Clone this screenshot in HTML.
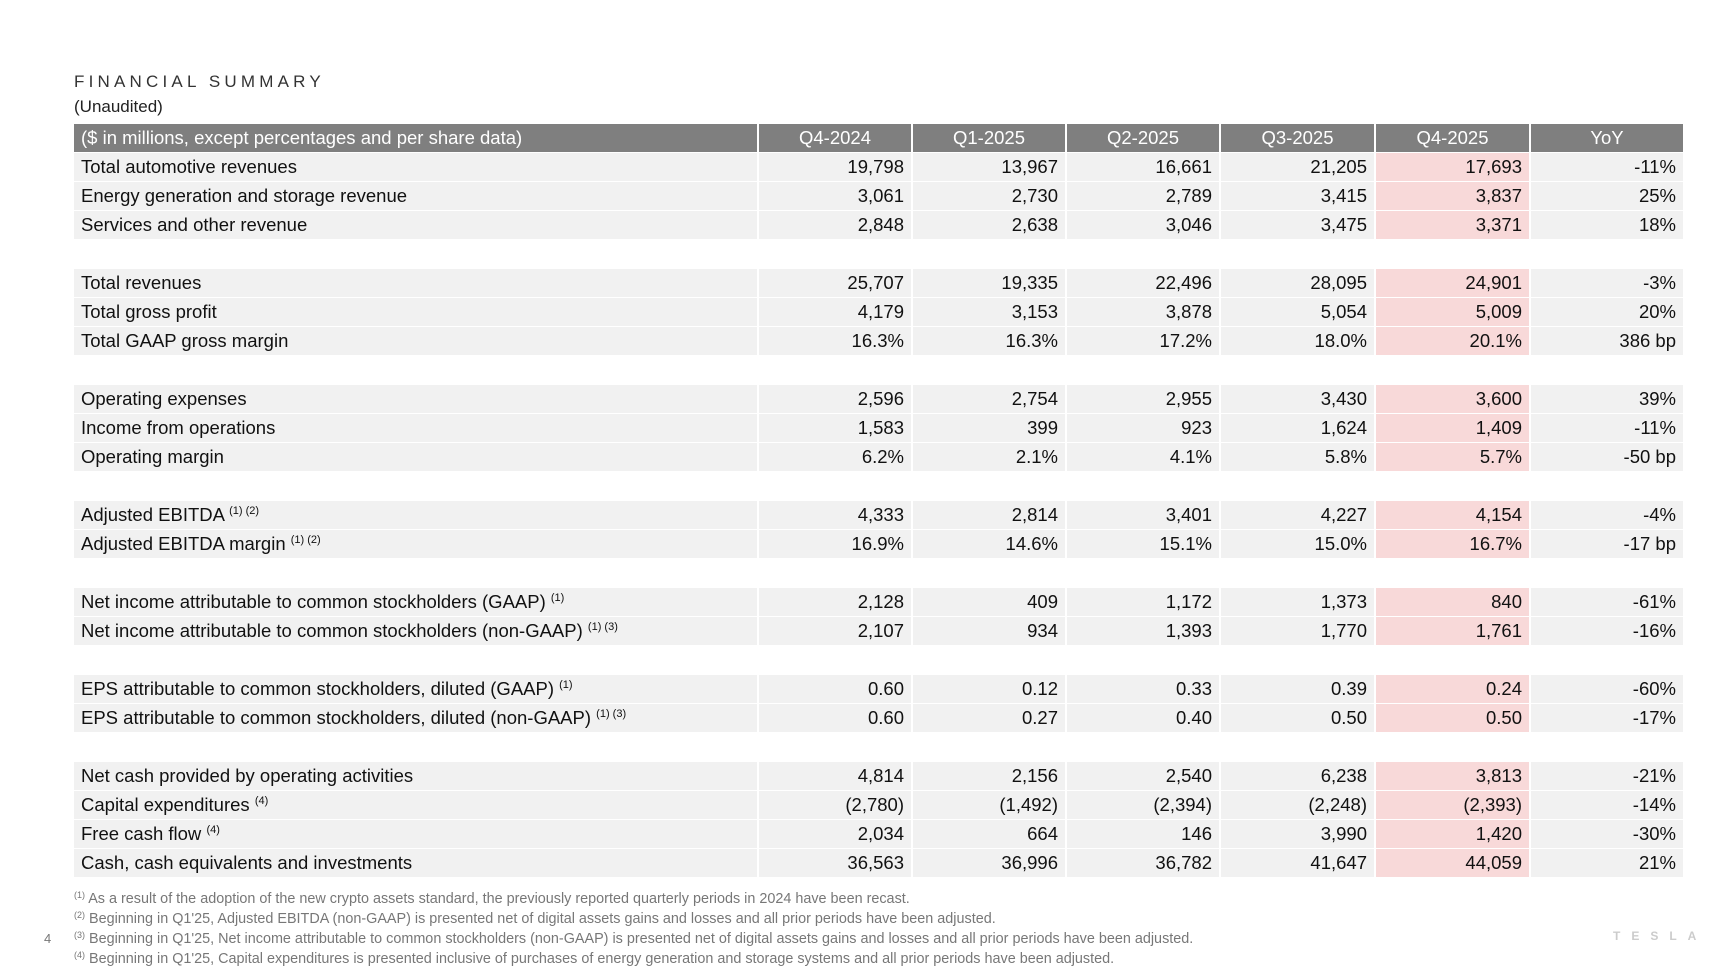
<!DOCTYPE html>
<html><head><meta charset="utf-8">
<style>
body{margin:0;width:1724px;height:969px;background:#fff;position:relative;overflow:hidden;font-family:"Liberation Sans",sans-serif;color:#111}
.t{position:absolute;left:74px;white-space:nowrap}
#tbl{position:absolute;left:72px;top:123px;width:1611px;border-collapse:collapse;table-layout:fixed;font-size:18.5px}
#tbl td,#tbl th{height:29px;padding:0 7px;border:2px solid #fff;border-top:1px solid #fff;border-bottom:1px solid #fff;box-sizing:border-box;white-space:nowrap}
#tbl th{background:#7f7f7f;color:#fff;font-weight:normal;text-align:center}
#tbl th:first-child{text-align:left}
#tbl td{background:#f1f1f1;text-align:right}
#tbl td:first-child{text-align:left}
#tbl td.hl{background:#f8d9d9}
#tbl tr.gap td{background:#fff}
sup{font-size:11px;vertical-align:7px}
.fn{position:absolute;left:74px;font-size:14.4px;color:#777;white-space:nowrap}
.fn sup{font-size:9px;vertical-align:5px}
</style></head><body>
<div class="t" style="top:72px;font-size:17px;letter-spacing:4.2px;color:#333">FINANCIAL SUMMARY</div>
<div class="t" style="top:97px;font-size:17px;color:#222">(Unaudited)</div>
<table id="tbl">
<colgroup><col style="width:685px"><col style="width:154px"><col style="width:154px"><col style="width:154px"><col style="width:155px"><col style="width:155px"><col style="width:154px"></colgroup>
<thead><tr><th>($ in millions, except percentages and per share data)</th><th>Q4-2024</th><th>Q1-2025</th><th>Q2-2025</th><th>Q3-2025</th><th>Q4-2025</th><th>YoY</th></tr></thead>
<tbody id="tb"></tbody></table>
<div class="fn" style="top:890px"><sup>(1)</sup> As a result of the adoption of the new crypto assets standard, the previously reported quarterly periods in 2024 have been recast.</div>
<div class="fn" style="top:910px"><sup>(2)</sup> Beginning in Q1'25, Adjusted EBITDA (non-GAAP) is presented net of digital assets gains and losses and all prior periods have been adjusted.</div>
<div class="fn" style="top:930px"><sup>(3)</sup> Beginning in Q1'25, Net income attributable to common stockholders (non-GAAP) is presented net of digital assets gains and losses and all prior periods have been adjusted.</div>
<div class="fn" style="top:950px"><sup>(4)</sup> Beginning in Q1'25, Capital expenditures is presented inclusive of purchases of energy generation and storage systems and all prior periods have been adjusted.</div>
<div style="position:absolute;left:44px;top:931px;font-size:13px;color:#777">4</div>
<div style="position:absolute;left:1613px;top:929px;font-size:12px;letter-spacing:11px;color:#ccc;font-weight:bold">TESLA</div>
<script>
const labels=["Total automotive revenues","Energy generation and storage revenue","Services and other revenue",null,"Total revenues","Total gross profit","Total GAAP gross margin",null,"Operating expenses","Income from operations","Operating margin",null,"Adjusted EBITDA <sup>(1) (2)</sup>","Adjusted EBITDA margin <sup>(1) (2)</sup>",null,"Net income attributable to common stockholders (GAAP) <sup>(1)</sup>","Net income attributable to common stockholders (non-GAAP) <sup>(1) (3)</sup>",null,"EPS attributable to common stockholders, diluted (GAAP) <sup>(1)</sup>","EPS attributable to common stockholders, diluted (non-GAAP) <sup>(1) (3)</sup>",null,"Net cash provided by operating activities","Capital expenditures <sup>(4)</sup>","Free cash flow <sup>(4)</sup>","Cash, cash equivalents and investments"];
const q4_2024=["19,798","3,061","2,848",null,"25,707","4,179","16.3%",null,"2,596","1,583","6.2%",null,"4,333","16.9%",null,"2,128","2,107",null,"0.60","0.60",null,"4,814","(2,780)","2,034","36,563"];
const q1_2025=["13,967","2,730","2,638",null,"19,335","3,153","16.3%",null,"2,754","399","2.1%",null,"2,814","14.6%",null,"409","934",null,"0.12","0.27",null,"2,156","(1,492)","664","36,996"];
const q2_2025=["16,661","2,789","3,046",null,"22,496","3,878","17.2%",null,"2,955","923","4.1%",null,"3,401","15.1%",null,"1,172","1,393",null,"0.33","0.40",null,"2,540","(2,394)","146","36,782"];
const q3_2025=["21,205","3,415","3,475",null,"28,095","5,054","18.0%",null,"3,430","1,624","5.8%",null,"4,227","15.0%",null,"1,373","1,770",null,"0.39","0.50",null,"6,238","(2,248)","3,990","41,647"];
const q4_2025=["17,693","3,837","3,371",null,"24,901","5,009","20.1%",null,"3,600","1,409","5.7%",null,"4,154","16.7%",null,"840","1,761",null,"0.24","0.50",null,"3,813","(2,393)","1,420","44,059"];
const yoy=["-11%","25%","18%",null,"-3%","20%","386 bp",null,"39%","-11%","-50 bp",null,"-4%","-17 bp",null,"-61%","-16%",null,"-60%","-17%",null,"-21%","-14%","-30%","21%"];
const tb=document.getElementById('tb');
labels.forEach((lab,i)=>{
  const tr=document.createElement('tr');
  if(lab===null){
    tr.className='gap';
    
    
    tr.innerHTML='<td colspan="7"></td>';
  } else {
    
    
    const vals=[q4_2024[i],q1_2025[i],q2_2025[i],q3_2025[i],q4_2025[i],yoy[i]];
    tr.innerHTML='<td>'+lab+'</td>'+vals.map((v,k)=>'<td'+(k===4?' class="hl"':'')+'>'+v+'</td>').join('');
  }
  tb.appendChild(tr);
});
</script>
</body></html>
